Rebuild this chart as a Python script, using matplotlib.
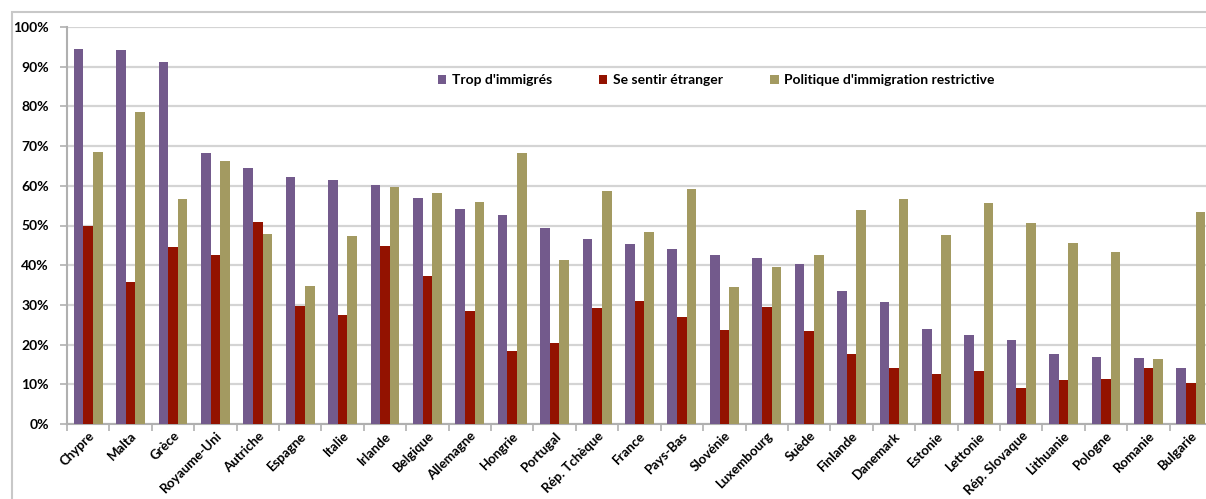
import numpy as np
import matplotlib
matplotlib.use("Agg")
import matplotlib.pyplot as plt
from matplotlib.patches import Rectangle
from matplotlib.ticker import FuncFormatter

pays = ["Chypre", "Malta", "Grèce", "Royaume-Uni", "Autriche", "Espagne",
        "Italie", "Irlande", "Belgique", "Allemagne", "Hongrie", "Portugal",
        "Rép. Tchèque", "France", "Pays-Bas", "Slovénie", "Luxembourg",
        "Suède", "Finlande", "Danemark", "Estonie", "Lettonie",
        "Rép. Slovaque", "Lithuanie", "Pologne", "Romanie", "Bulgarie"]

trop_immigres = [94.5, 94.2, 91.2, 68.2, 64.6, 62.2, 61.4, 60.1, 56.9, 54.2,
                 52.7, 49.4, 46.5, 45.3, 44.1, 42.6, 41.7, 40.2, 33.4, 30.7,
                 23.9, 22.4, 21.2, 17.6, 17.0, 16.7, 14.0]
etranger = [50.0, 35.7, 44.6, 42.6, 51.0, 29.8, 27.4, 44.9, 37.2, 28.5,
            18.5, 20.5, 29.2, 30.9, 27.0, 23.8, 29.4, 23.4, 17.6, 14.0,
            12.6, 13.3, 9.1, 11.0, 11.4, 14.0, 10.4]
restrictive = [68.5, 78.7, 56.6, 66.2, 47.9, 34.8, 47.4, 59.6, 58.2, 56.0,
               68.3, 41.4, 58.6, 48.4, 59.2, 34.5, 39.6, 42.6, 53.9, 56.6,
               47.6, 55.6, 50.6, 45.5, 43.2, 16.4, 53.4]

series = [("Trop d'immigrés", trop_immigres, "#735a8c"),
          ("Se sentir étranger", etranger, "#931200"),
          ("Politique d'immigration restrictive", restrictive, "#a39a61")]

plt.rcParams['font.family'] = ['Lato', 'DejaVu Sans']
plt.rcParams['font.weight'] = 'bold'

fig = plt.figure(figsize=(12.06, 4.99), dpi=100)

# outer grey frame
fig.patches.append(Rectangle((12 / 1206, -0.1), 1.2, 1 - 12 / 499 + 0.1,
                             transform=fig.transFigure, fill=False,
                             edgecolor="#c8c8c8", linewidth=1.5))

ax = fig.add_axes([67 / 1206, 1 - 424 / 499, 1145 / 1206, 397 / 499])

x = np.arange(len(pays))
w = 0.227
for i, (nom, vals, col) in enumerate(series):
    ax.bar(x + (i - 1) * w, vals, width=w, color=col, label=nom, zorder=3)

ax.set_xlim(-0.5, len(pays) - 0.5)
ax.set_ylim(0, 100)
ax.set_yticks(np.arange(0, 101, 10))
ax.yaxis.set_major_formatter(FuncFormatter(lambda v, p: "%d%%" % v))
ax.grid(axis="y", color="#d4d4d4", linewidth=1.6, zorder=0)

ax.set_xticks(x)
ax.set_xticklabels(pays, rotation=45, ha="right", rotation_mode="anchor",
                   fontsize=9.5)
ax.set_xticks(np.arange(-0.5, len(pays), 1), minor=True)
ax.tick_params(axis="x", which="major", length=0, pad=4)
ax.tick_params(axis="x", which="minor", length=5, color="#b0b0b0", width=1.2)
ax.tick_params(axis="y", length=5, color="#b0b0b0", width=1.2, labelsize=10,
               pad=8)

for s in ["top", "right"]:
    ax.spines[s].set_visible(False)
ax.spines["left"].set_color("#b0b0b0")
ax.spines["left"].set_linewidth(1.5)
ax.spines["bottom"].set_color("#b0b0b0")
ax.spines["bottom"].set_linewidth(1.5)

ax.legend(loc="center", bbox_to_anchor=(0.567, 0.866), ncol=3, frameon=False,
          fontsize=10, handlelength=0.6, handleheight=0.6, handletextpad=0.4,
          columnspacing=3.4)

fig.savefig("out.png", dpi=100)
